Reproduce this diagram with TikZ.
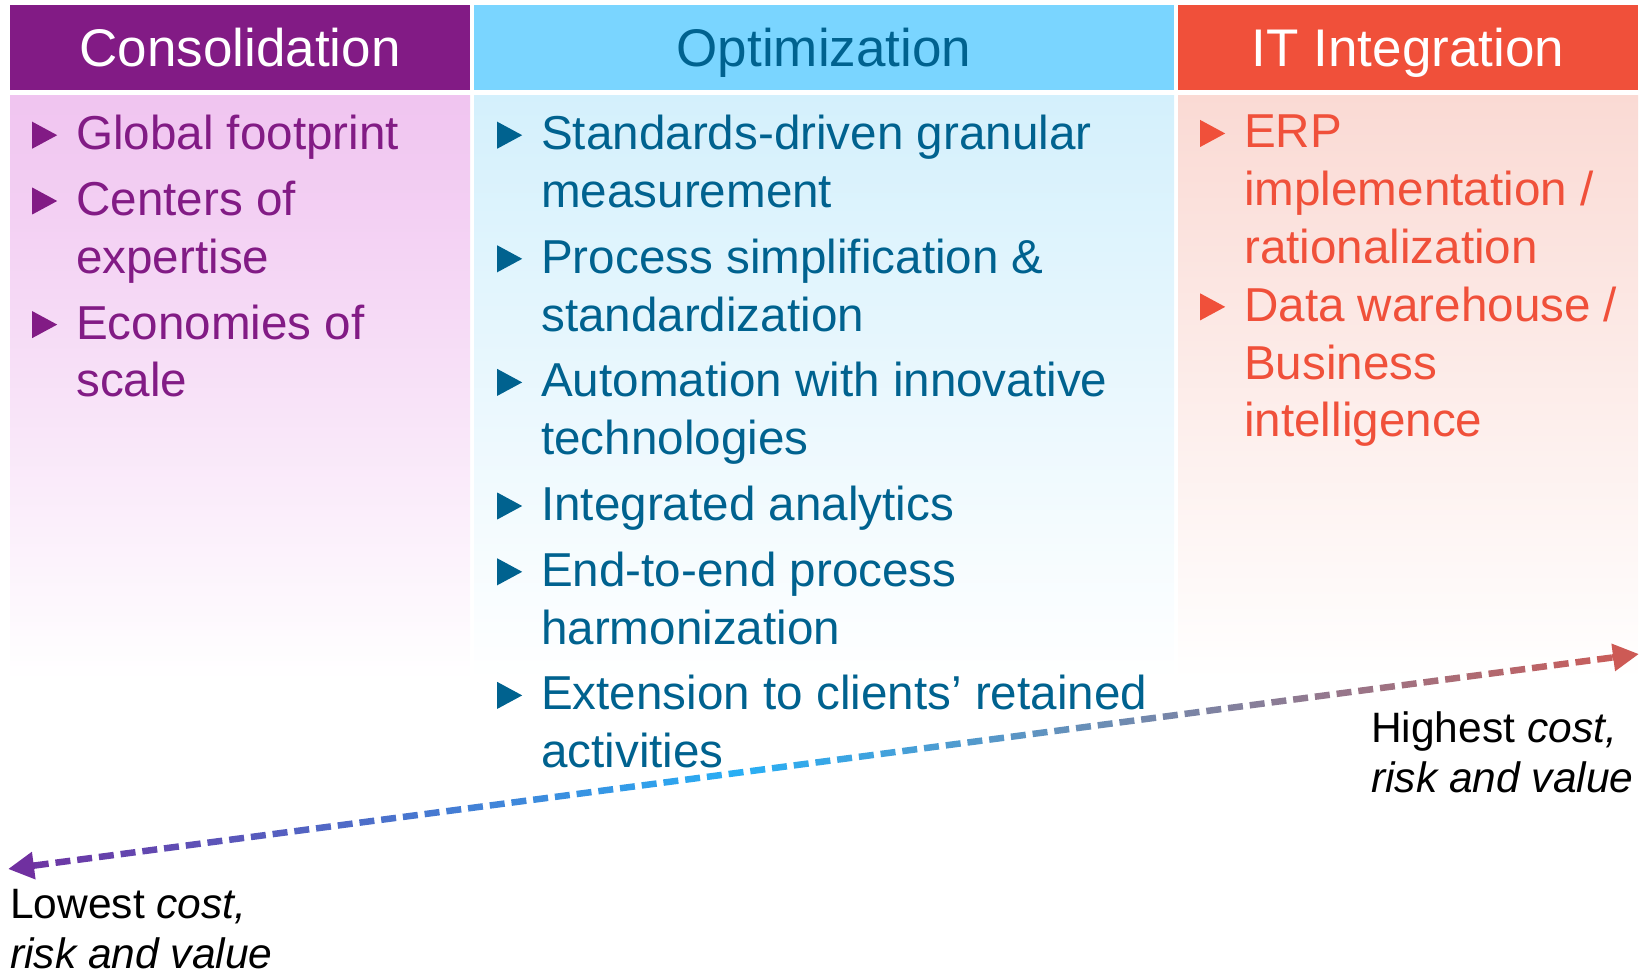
\documentclass[tikz,border=0pt]{standalone}
\usepackage{fontspec}
\setmainfont{Liberation Sans}
\usetikzlibrary{calc,arrows.meta}
\definecolor{conpurple}{RGB}{130,27,133}
\definecolor{conpink}{RGB}{240,196,240}
\definecolor{optblue}{RGB}{122,213,255}
\definecolor{opttext}{RGB}{0,98,143}
\definecolor{optlight}{RGB}{212,240,252}
\definecolor{itred}{RGB}{240,80,58}
\definecolor{itlight}{RGB}{250,218,212}
\definecolor{arrpurple}{RGB}{112,48,160}
\definecolor{arrblue}{RGB}{40,175,245}
\definecolor{arrred}{RGB}{205,90,85}
% bullet triangle and hanging indent
\newcommand\itm[1]{\tikz[baseline=0pt]\fill[#1] (0pt,1pt) -- (0pt,28pt) -- (25pt,14.5pt) -- cycle;\hspace{19pt}}
\newcommand\ind{\hspace*{44pt}}
\begin{document}
\begin{tikzpicture}[x=1pt,y=-1pt,
    hd/.style={inner sep=0pt,minimum height=85pt,text height=38pt,text depth=0pt,
        font=\fontsize{53}{60}\selectfont},
    bd/.style={anchor=north west,inner sep=0pt,align=left,
        font=\fontsize{47.6}{57.8}\selectfont},
    lbl/.style={anchor=north west,inner sep=0pt,align=left,
        font=\fontsize{42.5}{50}\selectfont}]
  \useasboundingbox (0,0) rectangle (1647,975);
  % column bodies
  \shade[top color=conpink,bottom color=white] (10,95) rectangle (470,680);
  \shade[top color=optlight,bottom color=white] (474,95) rectangle (1174,680);
  \shade[top color=itlight,bottom color=white] (1178,95) rectangle (1638,680);
  % headers
  \node[hd,fill=conpurple,text=white,minimum width=460pt] (conHd) at (240,47.5) {Consolidation};
  \node[hd,fill=optblue,text=opttext,minimum width=700pt] (optHd) at (824,47.5) {Optimization};
  \node[hd,fill=itred,text=white,minimum width=460pt] (itHd) at (1408,47.5) {IT Integration};
  % items
  \node[bd,text=conpurple] (conBd) at (32,115) {\itm{conpurple}Global footprint\\[8pt]
      \itm{conpurple}Centers of\\ \ind expertise\\[8pt]
      \itm{conpurple}Economies of\\ \ind scale};
  \node[bd,text=opttext] (optBd) at (497,115) {\itm{opttext}Standards-driven granular\\ \ind measurement\\[8pt]
      \itm{opttext}Process simplification \&\\ \ind standardization\\[8pt]
      \itm{opttext}Automation with innovative\\ \ind technologies\\[8pt]
      \itm{opttext}Integrated analytics\\[8pt]
      \itm{opttext}End-to-end process\\ \ind harmonization\\[8pt]
      \itm{opttext}Extension to clients’ retained\\ \ind activities};
  \node[bd,text=itred] (itBd) at (1200,115) {\itm{itred}ERP\\ \ind implementation /\\ \ind rationalization\\
      \itm{itred}Data warehouse /\\ \ind Business\\ \ind intelligence};
  % cost / risk / value axis
  \coordinate (lo) at (8,869);
  \coordinate (hi) at (1639,654);
  \foreach \i in {0,...,72}{
    \pgfmathsetmacro\ta{(26+21.9*\i)/1645}
    \pgfmathsetmacro\tb{\ta+15/1645}
    \pgfmathsetmacro\pa{min(100,(\ta+\tb)/2/0.45*100)}
    \pgfmathsetmacro\pb{max(0,((\ta+\tb)/2-0.45)/0.55*100)}
    \colorlet{tmpcol}{arrblue!\pa!arrpurple}
    \colorlet{dashcol}{arrred!\pb!tmpcol}
    \draw[dashcol,line width=6.5pt] ($(lo)!\ta!(hi)$) -- ($(lo)!\tb!(hi)$);
  }
  \draw[arrpurple,line width=6.5pt,-{Triangle[length=26pt,width=26pt]}] ($(lo)!27pt!(hi)$) -- (lo);
  \draw[arrred,line width=6.5pt,-{Triangle[length=26pt,width=26pt]}] ($(hi)!27pt!(lo)$) -- (hi);
  \node[lbl] (lowLbl) at (10,889) {Lowest \textit{cost,}\\\textit{risk and value}};
  \node[lbl] (highLbl) at (1371,711) {Highest \textit{cost,}\\\textit{risk and value}};
\end{tikzpicture}
\end{document}
